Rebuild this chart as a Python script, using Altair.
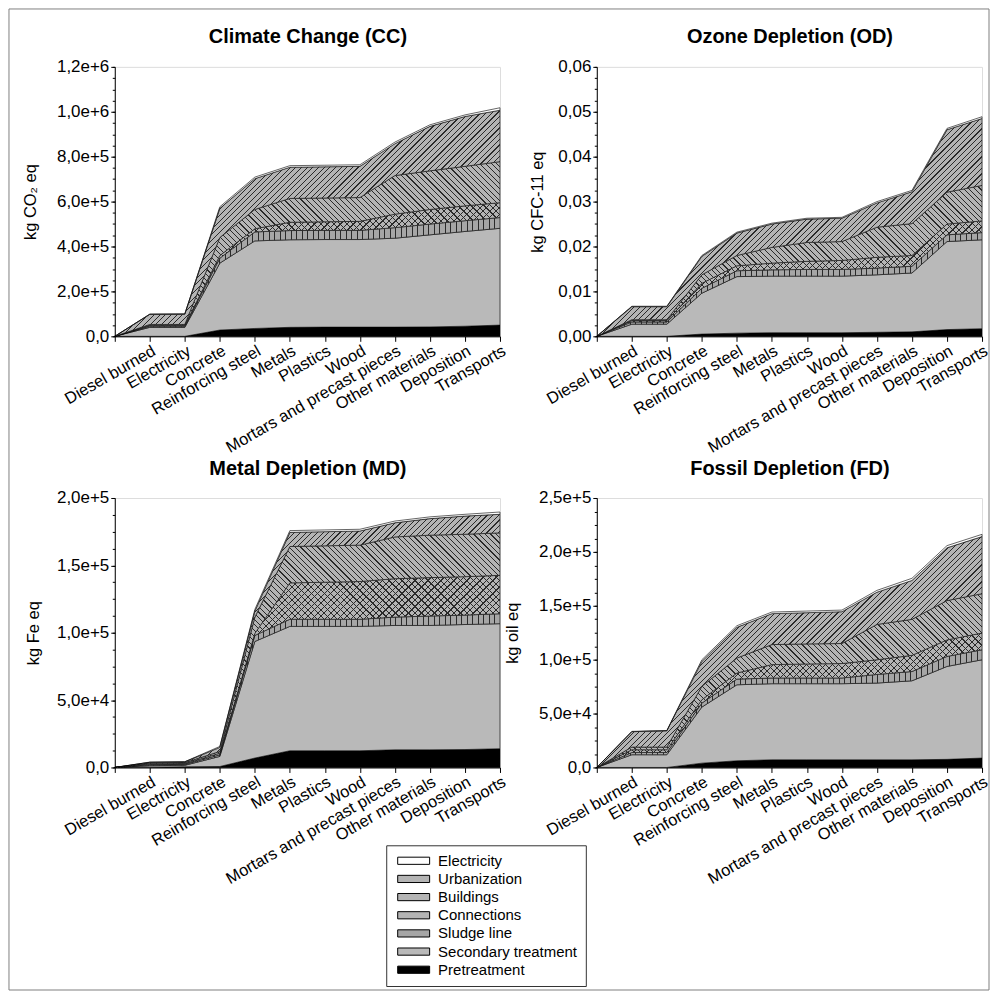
import math
import altair as alt
import pandas as pd

FONT = "Liberation Sans"

steps = ["", "Diesel burned", "Electricity", "Concrete", "Reinforcing steel", "Metals",
         "Plastics", "Wood", "Mortars and precast pieces", "Other materials",
         "Deposition", "Transports"]

series_stack = ["Pretreatment", "Secondary treatment", "Sludge line", "Connections",
                "Buildings", "Urbanization", "Electricity"]
legend_order = ["Electricity", "Urbanization", "Buildings", "Connections",
                "Sludge line", "Secondary treatment", "Pretreatment"]
legend_colors = ["#ffffff", "#b4b4b4", "#b4b4b4", "#b4b4b4", "#a6a6a6", "#b9b9b9", "#000000"]

# ---- Climate Change (kg CO2 eq) ----
cc_pretreatment = [0, 0, 0, 28000, 35000, 40000, 41000, 41000, 41000, 42000, 45000, 50000]
cc_secondary = [0, 40000, 40000, 298000, 390000, 390000, 390000, 390000, 396000, 410000, 422000, 431000]
cc_sludge = [0, 5000, 5000, 22000, 40000, 41000, 41000, 41000, 47000, 48000, 48000, 48000]
cc_connections = [0, 4000, 4000, 12000, 14000, 37000, 38000, 40000, 60000, 65000, 66000, 66000]
cc_buildings = [0, 4000, 4000, 80000, 86000, 106000, 106000, 106000, 172000, 172000, 176000, 183000]
cc_urbanization = [0, 45000, 46000, 130000, 137000, 139000, 139000, 139000, 142000, 198000, 222000, 229000]
cc_electricity = [0, 1000, 1000, 7000, 7000, 7000, 7000, 7000, 7000, 7000, 7000, 11000]

# ---- Ozone Depletion (kg CFC-11 eq) ----
od_pretreatment = [0, 0, 0, 0.0005, 0.0007, 0.0008, 0.0008, 0.0008, 0.0009, 0.0010, 0.0015, 0.0017]
od_secondary = [0, 0.0027, 0.0027, 0.0091, 0.0126, 0.0126, 0.0126, 0.0126, 0.0128, 0.0131, 0.0196, 0.0198]
od_sludge = [0, 0.0005, 0.0005, 0.0011, 0.0013, 0.0014, 0.0015, 0.0015, 0.0015, 0.0015, 0.0015, 0.0016]
od_connections = [0, 0.0003, 0.0003, 0.0011, 0.0011, 0.0015, 0.0018, 0.0020, 0.0024, 0.0024, 0.0024, 0.0026]
od_buildings = [0, 0.0002, 0.0002, 0.0019, 0.0023, 0.0035, 0.0042, 0.0042, 0.0067, 0.0071, 0.0071, 0.0079]
od_urbanization = [0, 0.0029, 0.0029, 0.0041, 0.0050, 0.0052, 0.0052, 0.0052, 0.0054, 0.0071, 0.0139, 0.0149]
od_electricity = [0, 0.0001, 0.0001, 0.0002, 0.0002, 0.0002, 0.0002, 0.0002, 0.0003, 0.0003, 0.0003, 0.0004]

# ---- Metal Depletion (kg Fe eq) ----
md_pretreatment = [0, 200, 500, 700, 7000, 12400, 12400, 12400, 13100, 13100, 13300, 13900]
md_secondary = [0, 1100, 1100, 7500, 86500, 92300, 92300, 92300, 92300, 92300, 92800, 92800]
md_sludge = [0, 700, 700, 1200, 4500, 5300, 5300, 5300, 6200, 7000, 7000, 7400]
md_connections = [0, 600, 600, 1200, 1500, 27000, 27500, 28000, 28500, 28500, 28500, 28500]
md_buildings = [0, 700, 700, 1300, 12000, 27000, 27000, 27000, 31000, 31500, 31500, 31500]
md_urbanization = [0, 500, 500, 3000, 4500, 10500, 10500, 10500, 10500, 12300, 13500, 13800]
md_electricity = [0, 200, 200, 700, 1300, 1300, 1300, 1300, 1300, 1300, 1300, 1700]

# ---- Fossil Depletion (kg oil eq) ----
fd_pretreatment = [0, 0, 0, 4000, 6200, 7100, 7100, 7100, 7100, 7100, 7500, 8700]
fd_secondary = [0, 11800, 11800, 52000, 70500, 70600, 70600, 70600, 71200, 73300, 86200, 91200]
fd_sludge = [0, 2100, 2100, 3700, 5300, 5300, 5300, 5300, 8000, 8600, 9300, 9300]
fd_connections = [0, 2500, 2500, 3100, 5600, 12400, 13000, 13400, 13600, 15000, 15300, 15500]
fd_buildings = [0, 2500, 2500, 12400, 13900, 18600, 18600, 18600, 32800, 33400, 36500, 36500]
fd_urbanization = [0, 14300, 15100, 23200, 28500, 28700, 29000, 29500, 29900, 36100, 49000, 53000]
fd_electricity = [0, 300, 300, 1500, 1500, 1500, 1500, 1500, 1700, 2000, 2000, 2100]


def long_df(lists):
    rows = []
    lo = [0.0] * len(steps)
    for k, (name, vals) in enumerate(zip(series_stack, lists)):
        for i, v in enumerate(vals):
            rows.append({"step": i, "series": name, "value": v, "order": k,
                         "lo": lo[i], "hi": lo[i] + v})
            lo[i] = lo[i] + v
    return pd.DataFrame(rows)


cc_df = long_df([cc_pretreatment, cc_secondary, cc_sludge, cc_connections, cc_buildings, cc_urbanization, cc_electricity])
od_df = long_df([od_pretreatment, od_secondary, od_sludge, od_connections, od_buildings, od_urbanization, od_electricity])
md_df = long_df([md_pretreatment, md_secondary, md_sludge, md_connections, md_buildings, md_urbanization, md_electricity])
fd_df = long_df([fd_pretreatment, fd_secondary, fd_sludge, fd_connections, fd_buildings, fd_urbanization, fd_electricity])

STEP_EXPR = "[" + ", ".join("'" + s + "'" for s in steps) + "][datum.value]"
SCI_EXPR = "datum.value == 0 ? '0,0' : replace(format(datum.value, '.1e'), '.', ',')"
DEC_EXPR = "replace(format(datum.value, '.2f'), '.', ',')"

W, H = 386, 270
LINE = "#2a2a2a"
CLEAR = "rgba(0,0,0,0)"


def stripe_stops(n, frac):
    stops = []
    for k in range(n):
        a = k / n
        b = (k + frac) / n
        c = (k + 1) / n
        stops += [{"offset": a, "color": LINE}, {"offset": b, "color": LINE},
                  {"offset": b, "color": CLEAR}, {"offset": c, "color": CLEAR}]
    return stops


def hatch(kind, hpx, spacing, width=0.85):
    """Linear-gradient stripes ('/', '\\' or '|') sized to an area's bounding box."""
    hpx = max(hpx, 1.0)
    if kind == "|":
        n = max(int(round(W / spacing)), 1)
        return {"gradient": "linear", "x1": 0, "y1": 0, "x2": 1, "y2": 0,
                "stops": stripe_stops(n, 1.0 * n / W)}
    r = hpx / W
    s = (1 + r) / (1 + r * r)
    n = max(int(round((W + hpx) / (spacing * math.sqrt(2)))), 1)
    frac = width * math.sqrt(2) * n / (W + hpx)
    if kind == "/":
        g = {"x1": 0, "y1": 0, "x2": s, "y2": s * r}
    else:
        g = {"x1": 0, "y1": 1, "x2": s, "y2": 1 - s * r}
    g.update({"gradient": "linear", "stops": stripe_stops(n, frac)})
    return g


OVERLAYS = [("Sludge line", "|", 5.5), ("Connections", "/", 4.6), ("Connections", "\\", 4.6),
            ("Buildings", "\\", 4.0), ("Urbanization", "/", 4.0)]


def panel(df, title, ytitle, ymax, major, minor, label_expr, title_x, frame=False):
    xscale = alt.Scale(domain=[0, 11], nice=False, zero=False)
    yscale = alt.Scale(domain=[0, ymax], nice=False, zero=True)
    xaxis = alt.Axis(values=list(range(12)), labelExpr=STEP_EXPR, labelAngle=330,
                     labelAlign="right", labelBaseline="top", labelFontSize=16.5,
                     labelFont=FONT, labelColor="black", tickSize=5, tickColor="black",
                     domainColor="black", labelPadding=1, grid=False, labelLimit=400,
                     labelOverlap=False, labelFlush=False, labelBound=False, title=None)
    yaxis = alt.Axis(values=major, labelExpr=label_expr, labelFontSize=17,
                     labelFont=FONT, labelColor="black", tickSize=4, tickColor="black",
                     domainColor="black", grid=False, labelOverlap=False,
                     labelFlush=False, titleFont=FONT, titleFontSize=16.5,
                     titleFontWeight="normal", titleColor="black", titleX=title_x,
                     titleY=H / 2, labelPadding=2, title=ytitle)
    xenc = alt.X("step:Q", scale=xscale, axis=xaxis, title=None)
    yenc = alt.Y("hi:Q", scale=yscale, axis=yaxis, title=ytitle, stack=None)
    base = alt.Chart(df).mark_area(stroke="black", strokeWidth=0.6, opacity=1).encode(
        x=xenc, y=yenc, y2="lo:Q",
        color=alt.Color("series:N", scale=alt.Scale(domain=legend_order, range=legend_colors),
                        legend=alt.Legend(orient="none", legendX=272, legendY=780, title=None,
                                          symbolType="M-1,-0.9H7V0.9H-1Z", symbolSize=64,
                                          symbolStrokeColor="black", symbolStrokeWidth=1,
                                          symbolOpacity=1, labelFontSize=15, labelFont=FONT,
                                          labelColor="black", strokeColor="#333333",
                                          fillColor="white", padding=8, rowPadding=2.2,
                                          labelOffset=29)),
        order=alt.Order("order:Q", sort="ascending"),
    )
    layers = [base]
    for name, kind, spacing in OVERLAYS:
        sub = df[df["series"] == name]
        hpx = sub["hi"].max() / ymax * H
        layers.append(alt.Chart(sub).mark_area(fill=hatch(kind, hpx, spacing), strokeWidth=0).encode(
            x=xenc, y=yenc, y2="lo:Q"))
    inner = alt.layer(*layers)
    guide = alt.Chart(df).mark_point(opacity=0).encode(
        x=alt.X("step:Q", scale=xscale,
                axis=alt.Axis(orient="top", title=title, labels=False, ticks=False, domain=False,
                              grid=False, titleFont=FONT, titleFontSize=20, titleFontWeight="bold",
                              titleColor="black", titlePadding=20)),
        y=alt.Y("hi:Q", scale=yscale, title=None,
                axis=alt.Axis(orient="left", values=minor, labels=False, tickSize=2.5,
                              tickColor="black", domain=False, grid=False, title=None)),
    )
    parts = [inner, guide]
    if frame:
        box = alt.Chart(pd.DataFrame({"k": [0]})).mark_rect(
            fillOpacity=0, stroke="#808080", strokeWidth=1).encode(
            x=alt.value(-106), x2=alt.value(876), y=alt.value(-58), y2=alt.value(925))
        parts = [box] + parts
    return alt.layer(*parts).resolve_axis(x="independent", y="independent").properties(
        width=W, height=H)


def ticks(step, n):
    return [round(step * k, 10) for k in range(n + 1)]


cc = panel(cc_df, "Climate Change (CC)", "kg CO₂ eq", 1.2e6, ticks(2e5, 6), ticks(5e4, 24), SCI_EXPR, -76, frame=True)
od = panel(od_df, "Ozone Depletion (OD)", "kg CFC-11 eq", 0.06, ticks(0.01, 6), ticks(0.0025, 24), DEC_EXPR, -51)
md = panel(md_df, "Metal Depletion (MD)", "kg Fe eq", 2.0e5, ticks(5e4, 4), ticks(1.25e4, 16), SCI_EXPR, -73)
fd = panel(fd_df, "Fossil Depletion (FD)", "kg oil eq", 2.5e5, ticks(5e4, 5), ticks(1.25e4, 20), SCI_EXPR, -76)

chart = alt.concat(cc, od, md, fd, columns=2, spacing={"row": 162, "column": 97}, bounds="flush").properties(
    padding={"left": 8, "top": 7, "right": 1, "bottom": 2}
).configure_view(stroke="#808080", strokeWidth=1).configure(background="white")

chart.save("out.html", embed_options={"renderer": "svg", "actions": False})
